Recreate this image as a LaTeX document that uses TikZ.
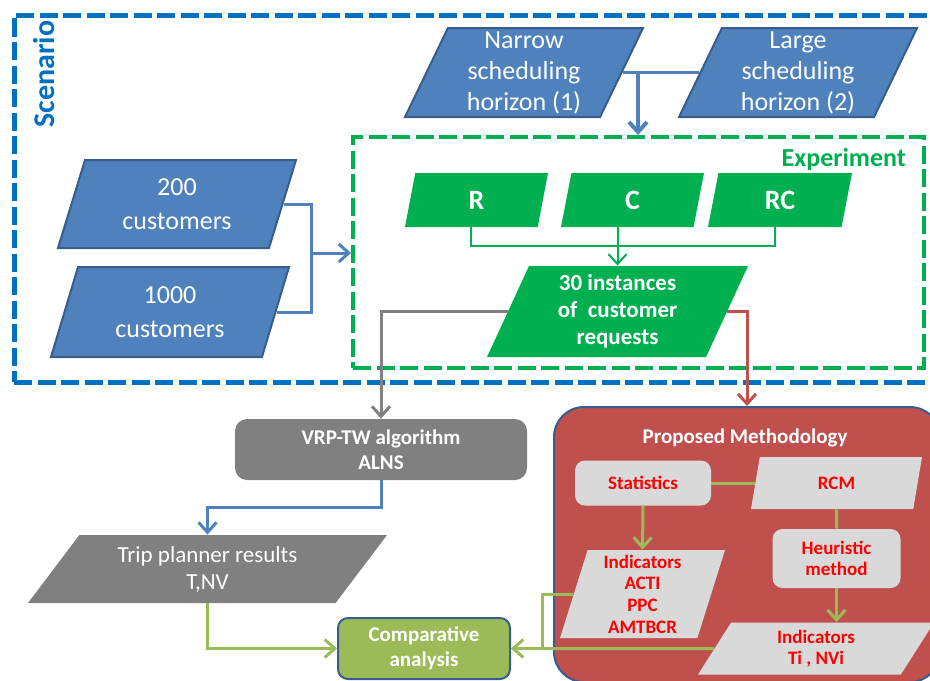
\documentclass[tikz,border=0pt]{standalone}
\usepackage{fontspec}
\setmainfont{Carlito}
\usetikzlibrary{shapes.geometric,arrows.meta}
\definecolor{scenblue}{RGB}{0,112,192}
\definecolor{boxblue}{RGB}{79,129,189}
\definecolor{edgeblue}{RGB}{56,93,138}
\definecolor{expgreen}{RGB}{0,176,80}
\definecolor{algogray}{RGB}{128,128,128}
\definecolor{methred}{RGB}{192,80,77}
\definecolor{palegray}{RGB}{217,217,217}
\definecolor{leaf}{RGB}{155,187,89}

\begin{document}
\begin{tikzpicture}[x=0.5pt,y=-0.5pt,>={Straight Barb[length=5pt,width=9pt]},
  para/.style 2 args={trapezium, trapezium left angle=#1, trapezium right angle=#2, trapezium stretches body, inner sep=0.5pt, align=center},
  bluepara/.style={para={63}{117}, fill=boxblue, draw=edgeblue, line width=1pt, text=white, font=\fontsize{13}{15.5}\selectfont},
  greenpara/.style={para={63}{117}, fill=expgreen, text=white, font=\bfseries\fontsize{11.5}{13.5}\selectfont},
  palebox/.style={rectangle, rounded corners=5pt, fill=palegray, text=red, align=center, inner sep=1pt, font=\bfseries\fontsize{9.5}{10.8}\selectfont},
  frame/.style={rectangle, dash pattern=on 9pt off 2.75pt, minimum width=#1},
  bluelink/.style={draw=boxblue, line width=1.5pt},
  greenlink/.style={draw=expgreen, line width=1pt},
  graylink/.style={draw=algogray, line width=1.5pt},
  redlink/.style={draw=methred, line width=1.5pt},
  leaflink/.style={draw=leaf, line width=1.5pt}]
\useasboundingbox (0,0) rectangle (930,680);

% frames
\node[frame=465.5pt, draw=scenblue, line width=2.5pt, minimum height=183.5pt] (scen) at (479.5,198.5) {};
\node[rotate=90, text=scenblue, font=\bfseries\fontsize{15}{18}\selectfont] (scenlabel) at (44,74) {Scenario};
\node[frame=285.5pt, draw=expgreen, line width=2pt, minimum height=115.5pt] (exp) at (638.5,252.5) {};
\node[anchor=base east, text=expgreen, font=\bfseries\fontsize{13}{15}\selectfont] (explabel) at (913,166) {Experiment};

% scenario inputs
\node[bluepara, minimum width=119pt, minimum height=44.5pt] (narrow) at (524,72.5) {Narrow\\scheduling\\horizon (1)};
\node[bluepara, minimum width=119pt, minimum height=44.5pt] (large) at (798,72.5) {Large\\scheduling\\horizon (2)};
\node[bluepara, minimum width=119pt, minimum height=44pt, font=\fontsize{13}{17}\selectfont] (cust200) at (177,204) {200\\customers};
\node[bluepara, minimum width=119pt, minimum height=45pt, font=\fontsize{13}{17}\selectfont] (cust1000) at (170,312) {1000\\customers};

% experiment
\node[greenpara, minimum width=71.5pt, minimum height=27pt, font=\bfseries\fontsize{14}{16}\selectfont] (typeR) at (476.5,200) {R};
\node[greenpara, minimum width=71.5pt, minimum height=27pt, font=\bfseries\fontsize{14}{16}\selectfont] (typeC) at (632.5,200) {C};
\node[greenpara, minimum width=72pt, minimum height=27pt, font=\bfseries\fontsize{14}{16}\selectfont] (typeRC) at (780,200) {RC};
\node[greenpara, para={61}{119}, minimum width=130.5pt, minimum height=45.5pt] (inst) at (617.5,311.5) {30 instances\\of\ \ customer\\requests};

% algorithm branch
\node[rectangle, rounded corners=6pt, fill=algogray, text=white, align=center, minimum width=146pt, minimum height=30.5pt, font=\bfseries\fontsize{10.5}{12.5}\selectfont] (vrp) at (381,449.5) {VRP-TW algorithm\\ALNS};
\node[para={43}{137}, fill=algogray, text=white, minimum width=179.5pt, minimum height=34pt, font=\fontsize{11.5}{13.5}\selectfont] (trip) at (207.5,569) {Trip planner results\\T,NV};
\node[rectangle, rounded corners=5pt, fill=leaf, draw=edgeblue, line width=1pt, text=white, align=center, minimum width=86pt, minimum height=30.5pt, font=\bfseries\fontsize{10.5}{12.5}\selectfont] (comp) at (424,648.5) {Comparative\\analysis};

% methodology
\node[rectangle, rounded corners=15pt, fill=methred, draw=edgeblue, line width=1pt, minimum width=193pt, minimum height=137.5pt] (method) at (747,544.5) {};
\node[anchor=base, text=white, font=\bfseries\fontsize{10.5}{12.5}\selectfont] (methtitle) at (745,443) {Proposed Methodology};
\node[palebox, minimum width=68pt, minimum height=22.5pt] (stats) at (643,483) {Statistics};
\node[para={59}{121}, fill=palegray, text=red, minimum width=85.5pt, minimum height=26pt, font=\bfseries\fontsize{9.5}{10.8}\selectfont] (rcm) at (836.5,483) {RCM};
\node[palebox, minimum width=64pt, minimum height=29.5pt] (heur) at (836.5,558.5) {Heuristic\\method};
\node[para={71}{109}, fill=palegray, text=red, minimum width=82.5pt, minimum height=44pt, font=\bfseries\fontsize{9.5}{10.8}\selectfont] (ind1) at (642.5,594) {Indicators\\ACTI\\PPC\\AMTBCR};
\node[para={50}{130}, fill=palegray, text=red, minimum width=118pt, minimum height=26pt, font=\bfseries\fontsize{9.5}{10.8}\selectfont] (ind2) at (816,648.5) {Indicators\\Ti , NVi};

% connectors
\coordinate (horizjoin) at (638,72.5);
\coordinate (custjoin) at (311,253);
\coordinate (indjoin) at (542,648.5);
\draw[bluelink] (narrow.east) -- (large.west);
\draw[bluelink, line width=2pt, ->] (horizjoin) -- (horizjoin |- exp.north);
\draw[bluelink] (cust200.east) -| (custjoin);
\draw[bluelink] (cust1000.east) -| (custjoin);
\draw[bluelink, ->] (custjoin) -- (custjoin -| exp.west);
\draw[greenlink] (typeR.bottom side) -- ++(0,19) -| (typeRC.bottom side);
\draw[greenlink, ->] (typeC.bottom side -| inst.north) -- (inst.north);
\draw[graylink, ->] (inst.west) -| (vrp.north);
\draw[redlink, ->] (inst.east) -| (method.north);
\draw[bluelink, ->] (vrp.south) -- ++(0,27) -| (trip.north);
\draw[leaflink, ->] (trip.south) |- (comp.west);
\draw[leaflink] (stats.east) -- (rcm.west);
\draw[leaflink, ->] (stats.south) -- (ind1.north);
\draw[leaflink] (rcm.south) -- (heur.north);
\draw[leaflink, ->] (heur.south) -- (heur.south |- ind2.north);
\draw[leaflink] (ind1.west) -| (indjoin);
\draw[leaflink, ->] (ind2.west) -- (comp.east);

\end{tikzpicture}
\end{document}
